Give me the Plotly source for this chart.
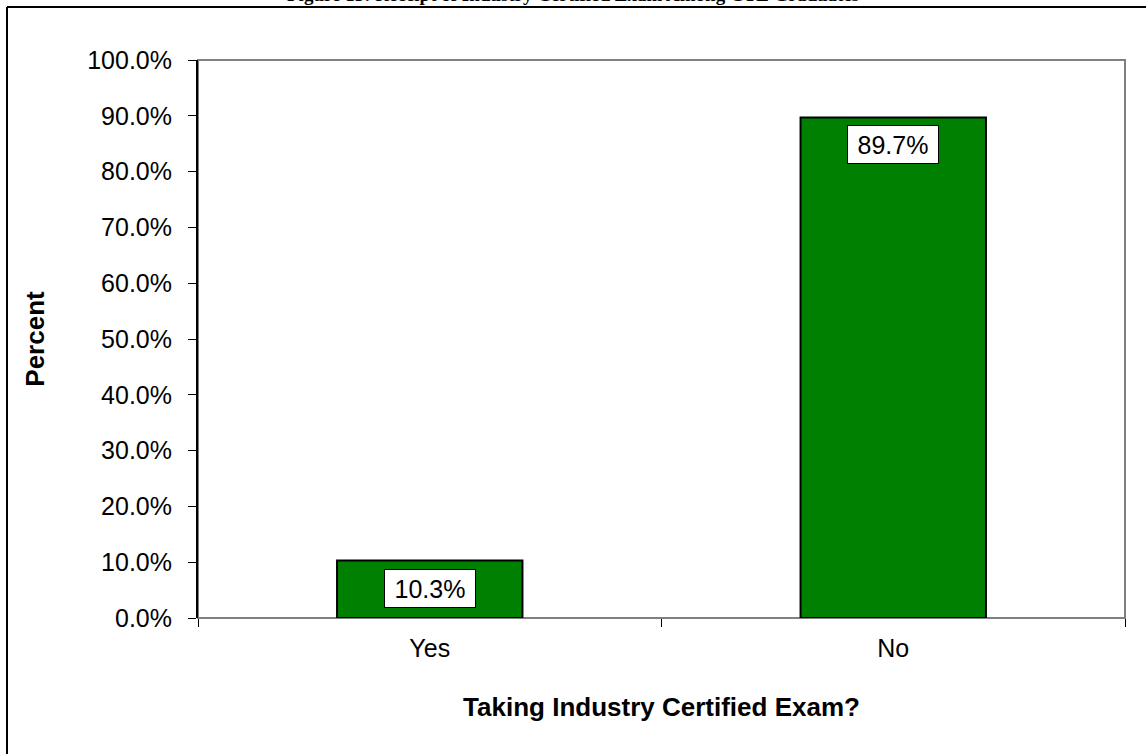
import plotly.graph_objects as go

# Survey result: share of CTE graduates taking an industry certified exam
categories = ["Yes", "No"]
percents = [10.3, 89.7]
y_ticks = [0, 10, 20, 30, 40, 50, 60, 70, 80, 90, 100]
y_tick_labels = [f"{v:.1f}%" for v in y_ticks]

W, H = 1146, 754
ML, MR, MT, MB = 198, 21, 60, 136
PW, PH = W - ML - MR, H - MT - MB


def px_to_paper_x(px):
    return (px - ML) / PW


def px_to_paper_y(py):
    return 1 + (MT - py) / PH


FONT = "Liberation Sans, Arial, sans-serif"

fig = go.Figure()
fig.add_trace(go.Bar(
    x=categories,
    y=percents,
    width=0.4,
    marker=dict(color="#008000", line=dict(color="#000000", width=2)),
    hoverinfo="skip",
))

# value labels boxed inside the top of each bar
for cat, val in zip(categories, percents):
    fig.add_annotation(
        x=cat, y=val, xref="x", yref="y",
        text=f"{val:.1f}%",
        showarrow=False,
        yanchor="top", yshift=-8,
        font=dict(family=FONT, size=25, color="#000000"),
        bgcolor="#ffffff", bordercolor="#000000", borderwidth=1,
        borderpad=3, width=84, height=31,
    )

# figure caption along the top edge of the page
fig.add_annotation(
    x=px_to_paper_x(W / 2), y=px_to_paper_y(-5), xref="paper", yref="paper",
    xanchor="center", yanchor="middle",
    text="<b>Figure 13: Receipt of Industry Certified Exam Among CTE Graduates</b>",
    showarrow=False,
    font=dict(family="Liberation Serif, Times New Roman, serif", size=19, color="#000000"),
)

# plot-area frame (grey) and outer chart frame (black)
fig.add_shape(type="rect", xref="paper", yref="paper", x0=0, y0=0, x1=1, y1=1,
              line=dict(color="#808080", width=2), layer="below")
fig.add_shape(type="line", xref="paper", yref="paper",
              x0=px_to_paper_x(7), y0=px_to_paper_y(7),
              x1=px_to_paper_x(W + 10), y1=px_to_paper_y(7),
              line=dict(color="#000000", width=2))
fig.add_shape(type="line", xref="paper", yref="paper",
              x0=px_to_paper_x(7), y0=px_to_paper_y(7),
              x1=px_to_paper_x(7), y1=px_to_paper_y(H + 10),
              line=dict(color="#000000", width=2))

fig.update_layout(
    width=W, height=H,
    margin=dict(l=ML, r=MR, t=MT, b=MB, pad=0),
    paper_bgcolor="#ffffff",
    plot_bgcolor="#ffffff",
    showlegend=False,
    bargap=0.6,
    xaxis=dict(
        type="category",
        tickson="boundaries",
        ticks="outside", ticklen=8, tickcolor="#000000", tickwidth=1,
        ticklabelstandoff=13,
        showline=False, showgrid=False, zeroline=False,
        tickfont=dict(family=FONT, size=25, color="#000000"),
        title=dict(text="<b>Taking Industry Certified Exam?</b>",
                   font=dict(family=FONT, size=26, color="#000000"), standoff=36),
    ),
    yaxis=dict(
        range=[0, 100],
        tickvals=y_ticks, ticktext=y_tick_labels,
        ticks="outside", ticklen=8, tickcolor="#000000", tickwidth=1,
        ticklabelstandoff=11,
        showline=True, linecolor="#000000", linewidth=2,
        showgrid=False, zeroline=False,
        tickfont=dict(family=FONT, size=25, color="#000000"),
        title=dict(text="<b>Percent</b>",
                   font=dict(family=FONT, size=26, color="#000000"), standoff=35),
    ),
)

fig.write_html("out.html")
